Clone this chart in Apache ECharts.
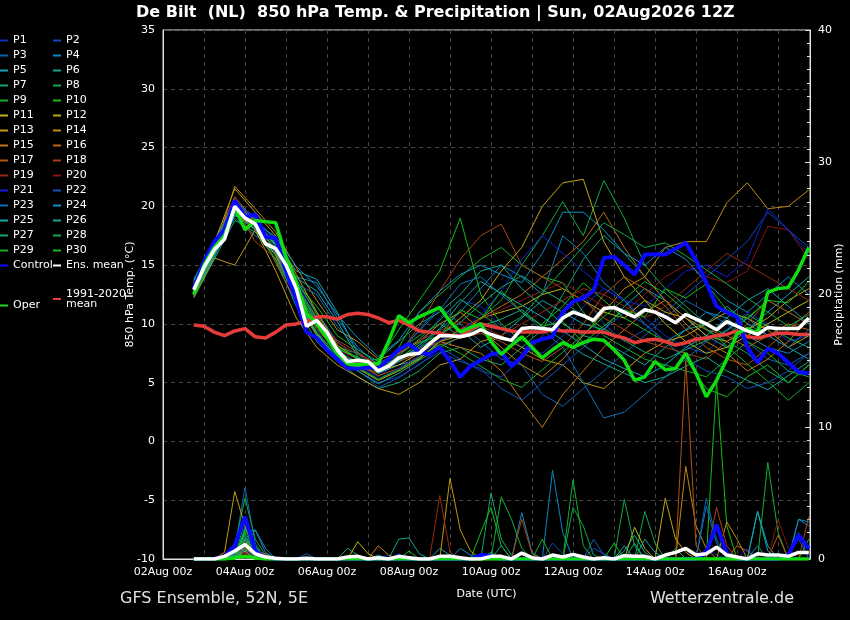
<!DOCTYPE html>
<html>
<head>
<meta charset="utf-8">
<script src="https://cdn.jsdelivr.net/npm/echarts/dist/echarts.min.js"></script>
<style>
  html, body { margin: 0; background: #000; }
  #chart { width: 850px; height: 620px; }
</style>
</head>
<body>
<div id="chart"></div>
<script>
// hours after 02Aug 00z; members every 12 h, main lines every 6 h
const hours12 = [];
for (let h = 18; h <= 378; h += 12) hours12.push(h);
const hours6 = [];
for (let h = 18; h <= 378; h += 6) hours6.push(h);

const memberColors = [
  '#0d2fbf', '#0d47b8', '#0f62b0', '#0f86bd', '#12a5b5', '#12a78f', '#12a86a', '#12a84a', '#12b02a', '#12c012',
  '#b8b812', '#c0a812', '#c09a12', '#c08a12', '#c07812', '#b86a12', '#b05512', '#a84212', '#982812', '#881414',
  '#1020d8', '#0f50c0', '#0f70b8', '#1090c0', '#12a8b0', '#12a890', '#12a86a', '#12a84a', '#12b02a', '#12c012'
];

// 850 hPa temperature of P1..P30 (°C), 12-hourly from 02Aug 18z
const memberTemp = [
  [13.2,16.0,19.8,18.2,16.0,12.5,9.5,7.0,6.5,5.5, 6.8,8.2,10.5,12.0,11.5,9.8,8.0,7.5,9.0,11.5, 13.0,12.0,10.5,9.0,8.0,7.5,9.5,11.0,10.0,8.5, 9.0],
  [12.8,16.5,20.2,18.8,16.8,13.2,10.0,7.5,6.0,5.0, 5.5,6.5,8.0,7.0,6.0,5.5,7.0,9.0,11.0,12.5, 10.0,8.5,9.5,11.0,12.5,14.0,15.5,17.0,19.5,18.0, 16.5],
  [13.5,16.8,19.5,18.0,16.2,13.5,11.0,8.5,7.0,6.2, 7.5,9.5,11.5,10.0,8.5,7.0,6.5,4.0,3.0,4.5, 6.0,7.5,9.0,10.5,12.0,11.0,10.0,8.5,7.0,6.5, 7.5],
  [13.0,16.2,19.0,17.5,16.5,14.0,13.5,10.5,8.0,6.5, 7.0,8.0,9.5,11.0,13.0,15.0,14.0,12.5,17.5,16.0, 13.5,12.0,10.0,8.5,9.5,11.0,10.5,9.0,8.0,7.5, 8.5],
  [12.5,15.8,19.2,18.4,17.0,14.5,13.8,11.0,7.5,5.8, 6.5,7.0,8.5,9.5,8.0,9.0,10.5,12.0,11.0,10.0, 9.5,11.5,13.0,12.0,10.5,9.0,8.0,9.5,11.0,12.5, 14.0],
  [13.8,17.0,20.5,19.0,16.0,12.0,9.0,7.2,6.8,7.0, 8.5,10.0,11.0,12.5,14.5,15.0,13.0,11.5,10.0,9.0, 8.5,7.5,6.5,8.0,9.5,10.0,11.5,10.0,9.0,8.0, 7.0],
  [12.2,15.5,18.8,17.8,15.5,11.5,8.5,6.8,5.5,4.5, 5.0,6.0,7.5,8.0,7.0,6.5,8.0,9.5,12.5,15.5, 17.5,16.0,14.0,12.0,10.5,9.5,8.5,7.5,6.0,5.0, 6.5],
  [13.4,16.4,19.9,18.9,17.2,13.8,10.8,8.0,7.5,6.5, 7.8,9.0,10.0,9.0,10.5,12.0,15.0,17.5,20.4,17.5, 22.2,19.0,15.0,13.0,11.5,10.0,9.0,10.5,12.0,11.0, 10.0],
  [12.6,16.0,19.3,18.6,16.6,12.8,10.2,7.8,7.2,6.0, 8.0,11.0,12.5,14.0,15.5,16.5,15.0,14.0,13.5,11.0, 9.0,8.0,7.0,6.5,6.0,5.5,7.0,8.5,7.5,6.0, 5.5],
  [13.1,16.6,20.0,18.3,16.3,13.5,11.5,9.0,7.8,6.8, 9.5,12.0,14.5,19.0,12.5,10.0,8.5,10.0,11.5,13.5, 12.0,10.5,9.5,8.5,7.0,4.5,3.8,5.5,6.5,5.0, 6.5],
  [12.9,16.2,19.6,18.0,15.8,12.2,9.2,7.0,6.2,5.2, 6.0,7.0,8.5,9.0,10.5,11.0,11.5,12.5,13.0,12.0, 11.0,10.5,12.0,10.0,8.5,7.5,8.0,9.0,10.0,11.0, 12.0],
  [13.3,16.9,21.5,19.5,17.5,14.2,11.0,8.2,7.0,6.0, 6.5,7.5,9.0,10.5,12.0,14.5,16.5,20.0,22.0,22.3, 17.0,14.0,12.0,11.0,10.5,9.0,8.5,9.5,10.5,12.0, 13.0],
  [12.3,15.6,15.0,18.0,14.5,10.5,8.0,6.5,5.5,4.5, 4.0,5.0,6.5,7.0,8.5,9.0,8.0,7.0,6.5,5.0, 4.5,6.0,7.5,8.5,9.0,10.0,11.0,10.5,9.5,8.0, 9.0],
  [12.7,16.1,21.7,19.8,17.8,14.8,12.0,9.5,8.5,7.0, 7.5,8.5,10.0,11.0,9.5,8.0,6.5,5.5,7.0,9.0, 11.0,13.0,14.0,16.5,17.0,17.0,20.3,22.0,19.8,20.0, 21.4],
  [13.0,16.3,20.6,18.5,16.9,13.0,9.8,7.5,6.8,6.0, 7.0,7.8,8.5,8.0,7.5,6.0,3.5,1.2,4.0,6.0, 8.0,9.5,11.0,12.0,10.0,8.5,7.5,6.0,7.0,8.5, 10.5],
  [13.6,16.7,20.8,18.7,15.2,11.8,9.0,7.0,6.5,5.8, 6.8,7.5,8.5,9.5,10.5,11.5,12.5,14.0,15.5,17.0, 19.5,16.5,14.0,12.0,10.5,9.5,9.0,8.0,9.0,10.0, 9.5],
  [12.4,15.9,19.4,18.1,16.1,12.6,9.6,7.6,6.6,5.6, 6.2,7.2,8.2,8.8,9.2,8.5,7.5,6.8,8.0,10.0, 12.5,14.0,13.0,11.5,9.5,8.0,7.0,6.5,8.0,9.5, 11.0],
  [13.2,16.4,20.1,17.0,15.6,12.4,10.2,8.6,7.6,6.4, 7.4,9.8,12.8,15.5,17.5,18.5,15.0,14.0,13.0,12.0, 10.5,9.5,8.5,8.0,7.5,7.0,8.5,10.0,12.0,11.0, 10.0],
  [12.8,16.0,19.7,18.8,16.7,13.3,10.6,8.4,7.4,6.6, 7.6,8.6,9.4,10.2,9.8,9.0,10.0,11.0,12.0,13.0, 12.5,11.5,10.5,11.5,13.0,14.5,16.0,15.0,14.0,13.0, 12.0],
  [13.0,16.2,19.5,18.4,16.5,13.0,10.0,7.8,7.0,6.2, 7.0,7.8,8.8,9.6,10.4,11.2,12.0,12.8,13.5,12.5, 11.5,11.0,12.5,14.0,15.0,14.0,13.5,14.5,18.3,18.0, 15.5],
  [13.5,16.6,20.3,19.1,16.9,13.6,10.4,7.9,6.4,5.3, 6.2,7.3,8.6,9.3,10.8,12.8,15.5,17.5,16.0,14.5, 13.0,12.0,11.5,13.0,14.5,15.0,14.0,15.5,19.8,18.0, 16.0],
  [12.9,16.3,19.8,18.2,16.4,12.9,9.9,7.4,6.1,4.6, 5.4,6.6,7.6,6.8,6.2,4.5,3.5,5.0,6.5,8.0, 9.5,11.0,10.0,8.5,7.0,6.0,5.5,4.5,5.0,6.0, 7.5],
  [13.3,16.8,20.4,18.9,16.6,13.4,12.5,9.8,7.8,6.6, 7.6,9.4,11.2,13.4,14.0,12.5,11.0,9.5,8.0,5.0, 2.0,2.5,4.0,5.5,7.0,8.5,9.5,10.5,9.0,8.0, 9.5],
  [12.6,15.9,19.4,18.6,17.4,14.9,13.2,10.8,8.8,7.2, 8.6,11.0,12.8,14.2,15.0,14.2,13.5,16.0,19.5,19.5, 18.0,16.0,15.0,16.5,15.5,13.5,12.0,11.0,12.5,14.0, 12.5],
  [13.7,16.5,19.9,18.5,16.8,13.9,12.8,10.2,7.2,5.8, 6.8,8.2,9.6,11.8,13.6,12.6,11.6,10.6,9.4,8.2, 7.0,6.2,5.5,6.5,8.0,9.0,10.5,12.0,13.0,11.5, 10.0],
  [12.5,15.7,19.3,18.0,15.9,12.1,9.1,7.1,6.0,4.9, 5.8,6.9,8.0,8.9,9.8,10.4,11.2,9.8,8.6,7.4, 6.6,5.8,5.0,5.5,6.4,7.2,6.0,5.2,4.4,5.6, 6.8],
  [13.1,16.3,19.6,18.2,16.4,13.1,10.3,7.7,6.7,5.9, 6.9,7.9,9.1,10.1,11.7,13.1,14.1,12.9,11.9,10.7, 9.6,8.6,7.6,7.0,7.8,8.6,9.4,10.8,9.8,8.8, 8.0],
  [12.9,16.1,19.9,18.7,16.2,12.7,10.1,7.9,7.1,6.1, 7.3,8.7,10.3,12.1,10.9,9.6,10.6,12.6,14.6,16.6, 18.6,17.6,16.5,16.9,15.8,14.6,13.4,12.2,11.0,9.8, 10.8],
  [13.4,16.7,20.0,18.3,15.4,12.3,9.3,7.3,6.3,5.3, 6.1,7.1,8.3,7.5,6.4,5.3,4.6,6.1,7.6,9.1, 10.6,12.1,13.6,12.6,11.1,9.6,8.1,6.6,5.1,3.5, 5.0],
  [12.7,16.0,19.5,18.6,16.7,13.2,10.5,8.0,7.0,6.2, 7.0,8.4,9.0,11.2,10.4,12.8,11.0,9.8,10.2,8.4, 9.8,11.2,10.6,13.0,12.2,13.4,11.2,10.4,12.0,11.8, 13.6]
];

// 6-hourly precipitation of P1..P30 (mm)
const memberPrecip = [
  [0,0,0,0.3,1,0.6,0.2,0,0,0, 0,0,0,0,0,0,0,0,0,0.3, 0,0,0,0,0,0,0,0,0,0, 0,0,0,0,0,0,0,0,0,0, 0,0,0,0,0,0,0,0,0,0, 0.8,0.3,0,0,0,0,0,0,0,0, 0],
  [0,0,0,0,0.6,1.8,0.4,0,0,0, 0,0,0,0,0,0,0,0,0,0, 0.2,0,0,0,0,0,0,0,0,0, 0,0,0,0,0,1.2,0.4,0,0,0, 0,0,0,0,0,0,0,0,0,0, 0,0,0,0,0,0,0,0,0.5,1.5, 0],
  [0,0,0,0,0.8,5.4,1.2,0,0,0, 0,0.4,0,0,0,0,0,0,0,0, 0,0,0,0,0,0,0,0,0,0, 0,0,0,0,0,0,0,0,0,1.5, 0.3,0,0,0,0,0,0,0,0,0, 4.6,1.5,0,0,0,0,0,0,0,0, 0],
  [0,0,0,0,0.4,2,2.2,0.8,0,0, 0,0,0,0,0,0,0,0,0,0, 0,0,0,0,0,0,0,0,0,0, 0,0,3.5,0.5,0,6.7,2,0,0,0, 0,0,0,0,0,0,0,0,0,0, 0,0,0,0,0,1,0,0,0,3, 2.5],
  [0,0,0,0,0,1.2,0.5,0,0,0, 0,0,0,0,0,0,0,0,0.3,0, 0,0,0,0,0.8,0.3,0,0,0,0, 0,0,0,0,0,0,0,0,0,0, 0,0,0,0,0,0,0,0,0,0, 0,0,0,0,0,3.6,1,0,0,0, 0],
  [0,0,0,0,0.3,1.6,0.6,0,0,0, 0,0,0,0,0,0,0,0,0,0, 1.5,1.6,0.4,0,0,0,0,0,0,0, 0,0,0,0,0,0,0,0,0,0, 0,0,0.6,1.8,0.5,0,0,0,0,0, 0,0,0,0,0,0,0,0,0,0, 0],
  [0,0,0,0,0,0.9,0.3,0,0,0, 0,0,0,0,0,0.8,0.3,0,0,0, 0,0,0,0,0,0,0,0,0,5, 1.5,0.3,0,0,0,0,0,0,0,0, 0,0,0,0,0,0,0,0,0,0, 0,0,0,0,0,0,0,0,0,0, 0],
  [0,0,0,0,1,4.6,1.5,0.3,0,0, 0,0,0,0,0,0,0,0,0,0, 0,0,0,0,0,0,0,0,0,0, 0,0,0,0,0,0,0,3.9,2.5,0.3, 0,0,0,0,3.6,1.2,0,0,0,0, 0,0,0,0,0,0,0,0,0,0, 0],
  [0,0,0,0,0,1.4,0.4,0,0,0, 0,0,0,0,0,0,0,0,0,0, 0,0,0,0,0,0,0,0,0,0, 4.7,3,0.8,0,0,0,0,0,0,0, 0,0,0,0,0,0,0,0,0,0, 0,0,0,0,0,0,7.3,2,0,0, 0],
  [0,0,0,0,0,2,0.8,0,0,0, 0,0,0,0,0,0,0,0,0,0, 0,0,0,0,0,0,0,0,2,3.9, 1,0,0,0,0,0,0,0,0,0, 0,0,0,0,0,0,0,0,0,0, 0,13.5,2.5,0,0,0,0,0,0,0, 0],
  [0,0,0,0,0,0.6,0,0,0,0, 0,0,0,0,0,0,1.3,0.4,0,0, 0,0,0,0,0,0,0,0,0,0, 0,0,0,0,0,0,0,0,0,0, 0,0,0,2.4,0.8,0,0,0,0,0, 0,0,0,0,0,0,0,0,0,0, 0],
  [0,0,0,0,0,0.8,0.3,0,0,0, 0,0,0,0,0,0,0,0,0,0, 0,0,0,0,0,0,0,0,0,0, 0,0,0,0,0,0,0,0,0,0, 0,0,0,0,0,0,4.6,1.5,0.5,0, 0,0,0,0,0,0,0,0,0,0, 0],
  [0,0,0,0.5,5.1,2.5,0.4,0,0,0, 0,0,0,0,0,0,0,0,0,0, 0,0,0,0,0,6.1,2.2,0.6,0,0, 0,0,0,0,0,0,0,0,0,0, 0,0,0,0,0,0,0,0,0,0, 0,0,0,0,0,0,0,0,0,0, 0],
  [0,0,0,0,0.6,1.5,0.4,0,0,0, 0,0,0,0,0,0,0,0,0,0, 0,0,0,0,0,0,0,0,0,0, 0,0,0,0,0,0,0,0,0,0, 0,0,0,0,0,0,0,0,7,2.5, 0.8,0,2.8,1.5,0,0,0,0,0,0, 0],
  [0,0,0,0,0,1,0,0,0,0, 0,0,0,0,0,0,0,0,1,0.3, 0,0,0,0,0,0,0,0,0,0, 0,0,0,0,0,0,0,0,0,0, 0,0,0,0,0,0,0,0,0,0, 0,0,0,0,0,0,0,0,0,0, 0],
  [0,0,0,0,0.3,1.2,0.6,0.4,0,0, 0,0,0,0,0,0,0,0,0,0, 0,0,0,0,0,0,0,0,0,0, 0,0,0,0,0,0,0,0,0,0, 0,0,0,0,0,0,0,0,0,0, 0,0,0,1,0.6,0,0,0,0,0, 0],
  [0,0,0,0,0,0.8,0.5,0,0,0, 0,0,0,0,0,0,0,0,0,0, 0,0,0,0,0,0,0,0,0,0, 0,0,0,0,0,0,0,0,0,0, 0,0,0,0,0,0,0,0,15,1, 0,0,0,0,0,0,0,1.8,0,0, 0],
  [0,0,0,0,0,1.3,0.3,0,0,0, 0,0,0,0,0,0,0,0,0,0, 0,0,0,0,0,0,0,0,0,0, 0,0,3,0.4,0,0,0,0,0,0, 0,0,0,0,0,0,0,0,0,0, 0,3.9,1,0,0,0,0,0,0,0, 3.2],
  [0,0,0,0,0,0.5,0,0,0,0, 0,0,0,0,0,0,0,0,0,0, 0,0,0,0,4.8,0.5,0,0,0,0, 0,0,0,0,0,0,0,0,0,0, 0,0,0,0,0,0,0,0,0,0, 0,0,0,0,0,0,0,0,0,0, 0],
  [0,0,0,0,0.8,0.4,0,0,0,0, 0,0,0,0,0,0,0,0,0,0, 0,0,0,0,0,0,0,0,0,0, 0,0,0,0,0,0,0,0,0,0, 0,0,0,0,0,0,0,0,0,0, 0,0,0,0,0,0,0,3,0.8,0, 0],
  [0,0,0,0,1,2.8,0.6,0,0,0, 0,0,0,0,0,0,0,0,0,0, 0.4,0,0,0,0,0,0,0,0,0, 0,0,0,0,0,0,0,0,0,0, 0,0,0,0,0,0,0,0,0,0, 0,0,0,0,0.8,0,0,0,0,0, 0],
  [0,0,0,0,0.5,1.1,0.3,0,0,0, 0,0,0,0,0,0,0,0,0,0, 0,0,0,0,0,0,0,0,0,0, 0,0,0,0,0,0,0,0,0,0.8, 0.4,0,0,0,0,0,0,0,0,0, 0,0,0,0,0,0,0,0,0,2, 0],
  [0,0,0,0,0.4,1.6,1,0,0,0, 0,0,0,0,0,0,0,0,0,0, 0,0,0,0,0,0,0,0,0,0, 0,0,0,0,0,0,0,0,0,0, 0,0,0,0,0,0,0,0,0,0, 4,1.2,0,0,0,0,0,0,0,0, 0],
  [0,0,0,0,0,1,2.2,0.5,0,0, 0,0,0,0,0,0,0,0,0,0, 0,0,0,0,0,0,0.8,0.3,0,0, 0,0,0,0,0,0,0,0,0,0, 0,0,0,0,0,0,0,0,0,0, 0,0,0,0,0,0,0,0,0,3, 2.8],
  [0,0,0,0,0,0.7,0.3,0,0,0, 0,0,0,0,0,0,0,0,0,0, 0,0,0,0,0,0,0,0,0,0, 0,0,0,0,0,0,0,0,0,0, 0,0,1,0,0,0,0,0,0,0, 0,0,0,0,0,3.6,0.6,0,0,0, 0],
  [0,0,0,0,0,2.4,0.6,0,0,0, 0,0,0,0,0,0,0,0,0,0, 0,0,0,0,0,0,0,0,0,0.5, 0,0,0,0,0,0,0,0,0,0, 0,0,0,0,1.5,0.5,0,0,0,0, 0,0,0,0,0,0,0,0,0,0, 0],
  [0,0,0,0,0.3,1.8,0.5,0,0,0, 0,0,0,0,0,0,0,0,0,0, 0,0,0,0,0,0,0,0,0,0, 1,0,0,0,0,0,0,0,0,0, 0,0,0,1.2,0,0,0,0,0,0, 0,0,0,0,0,0,0,0,0,0, 0],
  [0,0,0,0,0,3,0.8,0,0,0, 0,0,0,0,0,0,0,0,0,0, 0,0,0,0,0,0,0,0,0,0, 0,0,0,0,0,0,0,0,0,0, 0,0,4.5,1,0,0,0,0.8,0,0, 0,0,0,0,0,0,0,0,0,0, 0],
  [0,0,0,0,0,1.5,0.4,0,0,0, 0,0,0,0,0,0,0,0,0,0, 0,0,0,0,0,0,0,0,0,0, 0,0,0,0,1.5,0,0,6,1,0, 0,0,0,0,0,0,0,0,0,0, 0,0,0,0,0,0,0,0,0,0, 0],
  [0,0,0,0,0,2.2,1,0,0,0, 0,0,0,0,0,0,0,0,0,0, 0,0.6,0,0,0,0,0,0,0,0, 0,0,0,0,0,0,0,0,0,0, 0,1.2,0,0,0,0,0,0,0,0, 0,0,0,0,0,0,0,0,0,0, 1.5]
];

// main lines, 6-hourly from 02Aug 18z
const controlTemp = [13.0,15.3,17.0,18.0,20.5,19.1,19.3,17.4,17.3,14.5, 12.0,9.3,8.8,7.8,7.0,6.2,6.2,6.3,6.2,7.0,
  7.8,8.3,7.6,7.4,8.0,6.8,5.5,6.4,6.9,7.4, 7.6,6.4,7.2,8.4,8.7,8.9,11.0,11.9,12.2,12.8,
  15.6,15.7,15.0,14.2,15.9,15.9,15.9,16.4,16.9,15.4, 13.5,11.5,11.0,10.6,8.0,6.7,7.9,7.5,6.7,5.9, 5.8];
const meanTemp = [12.9,14.8,16.3,17.2,20.0,19.0,18.5,16.8,16.4,15.0, 13.0,9.8,10.3,9.3,7.8,6.8,6.9,6.8,6.0,6.4,
  7.1,7.4,7.5,8.3,9.0,9.0,8.9,9.1,9.5,9.1, 8.8,8.6,9.6,9.7,9.6,9.5,10.5,11.0,10.7,10.3,
  11.3,11.4,11.0,10.6,11.2,11.0,10.6,10.1,10.8,10.4, 10.0,9.5,10.2,9.8,9.4,9.1,9.7,9.6,9.6,9.6, 10.5];
const operTemp = [12.5,15.0,16.5,17.5,19.9,18.0,18.8,18.7,18.6,15.7, 13.5,10.9,10.0,8.8,7.5,6.6,6.5,6.6,6.6,8.5,
  10.7,10.1,10.6,11.0,11.4,10.2,9.3,9.7,10.0,8.5, 7.4,8.2,8.9,8.0,7.1,7.8,8.4,8.0,8.4,8.7,
  8.6,7.8,6.9,5.2,5.5,6.8,6.1,6.2,7.5,5.8, 3.8,5.2,7.0,9.2,9.6,9.2,12.7,13.0,13.1,14.6, 16.5];
const climTemp = [9.9,9.8,9.3,9.0,9.4,9.6,8.9,8.8,9.3,9.9, 10.0,10.2,10.6,10.6,10.4,10.8,10.9,10.8,10.5,10.1,
  10.3,9.9,9.4,9.3,9.2,9.0,9.0,9.5,10.0,9.8, 9.6,9.4,9.3,9.3,9.3,9.5,9.4,9.4,9.3,9.3,
  9.3,9.0,8.8,8.4,8.6,8.7,8.5,8.2,8.4,8.7, 8.8,9.0,9.1,9.4,8.9,8.8,9.0,9.2,9.2,9.1, 9.1];

const controlPrecip = [0,0,0,0.2,1,3.2,0.6,0.1,0,0, 0,0,0,0,0,0,0,0,0,0, 0,0,0,0,0,0,0,0,0.3,0.2,
  0,0,0,0,0,0,0,0,0,0, 0,0,0,0,0,0,0,0,0,0, 0.5,2.6,0.4,0,0,0,0,0,0.3,1.8, 0.8];
const meanPrecip = [0,0,0,0.2,0.6,1.1,0.4,0.15,0.05,0, 0,0.05,0,0,0,0.15,0.2,0,0.1,0, 0.2,0.1,0,0,0.2,0.2,0.1,0,0,0.2,
  0.2,0,0.45,0.1,0,0.3,0.15,0.35,0.15,0, 0.1,0,0.25,0.2,0.2,0,0.3,0.5,0.8,0.3, 0.4,0.9,0.3,0.15,0,0.4,0.3,0.3,0.2,0.5, 0.5];
const operPrecip = [0,0,0,0,0.1,0.2,0.1,0,0,0, 0,0,0,0,0,0,0,0,0,0, 0,0,0,0,0,0,0,0,0,0,
  0,0,0,0,0,0,0,0,0,0, 0,0,0,0,0,0,0,0,0,0, 0,0,0,0,0,0,0,0,0,0, 0];

const font = 'DejaVu Sans';
const chart = echarts.init(document.getElementById('chart'));

function line(name, hours, values, color, width, axis, z) {
  return {
    name: name,
    type: 'line',
    yAxisIndex: axis,
    data: hours.map((h, i) => [h, values[i]]),
    symbol: 'none',
    silent: true,
    z: z,
    itemStyle: { color: color },
    lineStyle: { color: color, width: width }
  };
}

const series = [];
const memberNames = [];
memberTemp.forEach((vals, i) => {
  memberNames.push('P' + (i + 1));
  series.push(line('P' + (i + 1), hours12, vals, memberColors[i], 1, 0, 2));
});
memberPrecip.forEach((vals, i) => {
  series.push(line('P' + (i + 1), hours6, vals, memberColors[i], 1, 1, 2));
});
series.push(line('1991-2020 mean', hours6, climTemp, '#e63c3c', 3.5, 0, 3));
series.push(line('Control', hours6, controlTemp, '#0a0aff', 4, 0, 4));
series.push(line('Oper', hours6, operTemp, '#10dd10', 3.5, 0, 5));
series.push(line('Ens. mean', hours6, meanTemp, '#ffffff', 3.5, 0, 6));
series.push(line('Control', hours6, controlPrecip, '#0a0aff', 4, 1, 4));
series.push(line('Ens. mean', hours6, meanPrecip, '#ffffff', 3.5, 1, 6));
series.push(line('Oper', hours6, operPrecip, '#10dd10', 3.5, 1, 5));

const legendBase = {
  orient: 'vertical',
  icon: 'rect',
  itemWidth: 8,
  itemHeight: 2,
  itemGap: 0,
  padding: 0,
  selectedMode: false,
  textStyle: { color: '#ffffff', fontSize: 11, fontFamily: font, lineHeight: 15 }
};
const leftCol = memberNames.filter((n, i) => i % 2 === 0).concat(['Control']);
const rightCol = memberNames.filter((n, i) => i % 2 === 1).concat(['Ens. mean']);

const option = {
  backgroundColor: '#000000',
  animation: false,
  title: [
    { text: 'De Bilt  (NL)  850 hPa Temp. & Precipitation | Sun, 02Aug2026 12Z', left: 136, top: 5, padding: 0,
      textStyle: { color: '#ffffff', fontSize: 16, fontWeight: 'bold', fontFamily: font } },
    { text: 'GFS Ensemble, 52N, 5E', left: 120, top: 591, padding: 0,
      textStyle: { color: '#e0e0e0', fontSize: 16, fontWeight: 'normal', fontFamily: font } },
    { text: 'Wetterzentrale.de', right: 56, top: 591, padding: 0,
      textStyle: { color: '#e0e0e0', fontSize: 16, fontWeight: 'normal', fontFamily: font } }
  ],
  legend: [
    Object.assign({}, legendBase, { data: leftCol, left: 0, top: 33 }),
    Object.assign({}, legendBase, { data: rightCol, left: 53, top: 33 }),
    Object.assign({}, legendBase, { data: ['1991-2020 mean'], left: 53, top: 284,
      formatter: () => '1991-2020\nmean',
      textStyle: { color: '#ffffff', fontSize: 11, fontFamily: font, lineHeight: 10, padding: [10, 0, 0, 0] } }),
    Object.assign({}, legendBase, { data: ['Oper'], left: 0, top: 298 })
  ],
  grid: { left: 163, right: 40, top: 30, bottom: 61, show: true, borderColor: '#e0e0e0', borderWidth: 1,
    containLabel: false, outerBoundsMode: 'none' },
  xAxis: {
    type: 'value',
    min: 0,
    max: 378.7,
    interval: 24,
    name: 'Date (UTC)',
    nameLocation: 'middle',
    nameGap: 30,
    nameMoveOverlap: false,
    nameTextStyle: { color: '#ffffff', fontSize: 11, fontFamily: font },
    axisLine: { onZero: false, lineStyle: { color: '#e0e0e0' } },
    axisTick: { show: false },
    axisLabel: {
      color: '#ffffff', fontSize: 11, fontFamily: font, margin: 8,
      formatter: v => (v % 48 === 0 ? String(2 + v / 24).padStart(2, '0') + 'Aug 00z' : '')
    },
    splitLine: { show: true, lineStyle: { color: '#444444', type: [4, 4] } }
  },
  yAxis: [
    {
      type: 'value', min: -10, max: 35, interval: 5,
      name: '850 hPa Temp. (°C)', nameLocation: 'middle', nameGap: 27, nameMoveOverlap: false,
      nameTextStyle: { color: '#ffffff', fontSize: 11, fontFamily: font },
      axisLine: { show: true, lineStyle: { color: '#e0e0e0' } },
      axisTick: { show: false },
      axisLabel: { color: '#ffffff', fontSize: 11, fontFamily: font, margin: 8 },
      splitLine: { show: true, lineStyle: { color: '#444444', type: [4, 4] } }
    },
    {
      type: 'value', min: 0, max: 40, interval: 10, position: 'right',
      name: 'Precipitation (mm)', nameLocation: 'middle', nameGap: 24, nameRotate: 90, nameMoveOverlap: false,
      nameTextStyle: { color: '#ffffff', fontSize: 11, fontFamily: font },
      axisLine: { show: true, lineStyle: { color: '#e0e0e0' } },
      axisTick: { show: true, inside: true, length: 5, lineStyle: { color: '#e0e0e0' } },
      minorTick: { show: true, splitNumber: 10, length: 3, lineStyle: { color: '#e0e0e0' } },
      axisLabel: { color: '#ffffff', fontSize: 11, fontFamily: font, margin: 8 },
      splitLine: { show: false }
    }
  ],
  series: series
};
chart.setOption(option);
</script>
</body>
</html>
